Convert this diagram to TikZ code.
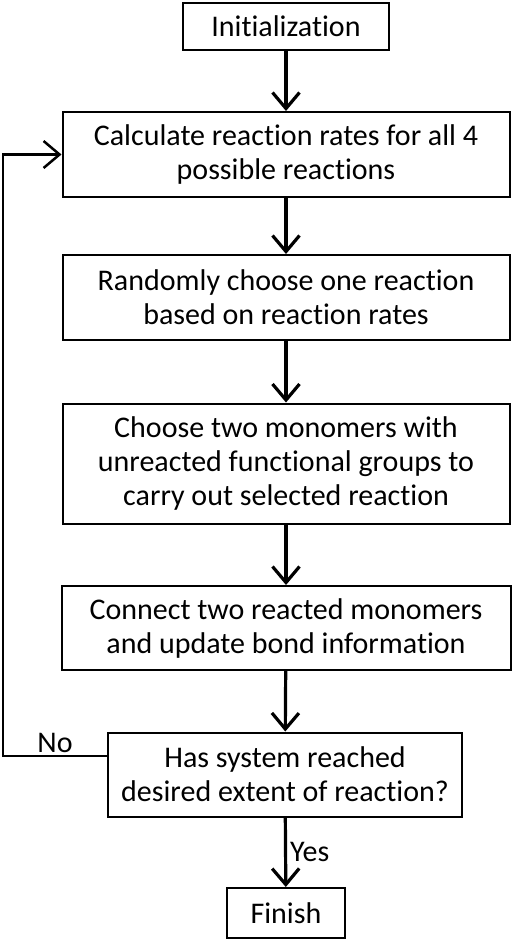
\documentclass[tikz,border=0pt]{standalone}
\usepackage{fontspec}
\setmainfont[Ligatures=NoCommon]{Carlito}
\usetikzlibrary{arrows.meta}

\begin{document}
\begin{tikzpicture}[x=1pt, y=-1pt,
    box/.style={draw, line width=2pt, align=center, inner sep=0pt, font=\fontsize{30}{34}\selectfont},
    flow/.style={-{Straight Barb[length=16pt,width=27pt]}, line width=3.2pt},
    lbl/.style={font=\fontsize{30}{34}\selectfont}]
    \useasboundingbox (0, 0) rectangle (517, 940);
    \node[box, minimum width=206pt, minimum height=47pt] (init) at (286, 26.5) {Initialization};
    \node[box, minimum width=447pt, minimum height=85pt] (calc) at (286, 154.5) {Calculate reaction rates for all 4\\possible reactions};
    \node[box, minimum width=447pt, minimum height=85pt] (rand) at (286, 297.5) {Randomly choose one reaction\\based on reaction rates};
    \node[box, minimum width=447pt, minimum height=120pt] (choose) at (286, 463.5) {Choose two monomers with\\unreacted functional groups to\\carry out selected reaction};
    \node[box, minimum width=449pt, minimum height=84pt] (conn) at (286, 628) {Connect two reacted monomers\\and update bond information};
    \node[box, minimum width=354pt, minimum height=84pt] (check) at (285, 774.5) {Has system reached\\desired extent of reaction?};
    \node[box, minimum width=118pt, minimum height=50pt] (fin) at (286, 913) {Finish};
    \coordinate (back) at (3, 756);
    \draw [flow] (init) to (calc);
    \draw [flow] (calc) to (rand);
    \draw [flow] (rand) to (choose);
    \draw [flow] (choose) to (conn);
    \draw [flow] (conn) to (check);
    \draw [flow] (check) to node[lbl, right, inner sep=3pt] {Yes} (fin);
    \draw [flow, line width=2.5pt, line join=miter] ([yshift=18.5pt]check.west) -- node[lbl, above, inner sep=2pt] {No} (back) |- (calc.west);
\end{tikzpicture}
\end{document}
